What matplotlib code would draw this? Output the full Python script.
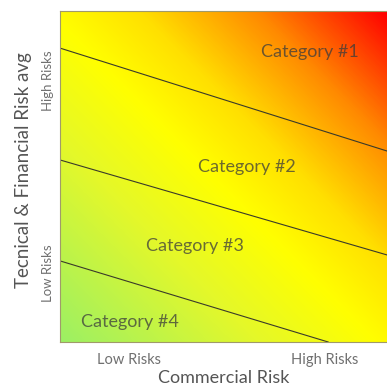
import numpy as np
import matplotlib.pyplot as plt
from matplotlib.colors import LinearSegmentedColormap

plt.rcParams['font.family'] = ['Lato', 'DejaVu Sans']

# category boundaries: (x0, y0) -> (x1, y1) in normalised risk units
boundary_x = [[0.0, 1.0], [0.0, 1.0], [0.0, 0.82]]
boundary_y = [[0.888, 0.577], [0.55, 0.263], [0.245, 0.0]]

categories = ['Category #1', 'Category #2', 'Category #3', 'Category #4']
cat_x = [0.765, 0.572, 0.413, 0.214]
cat_y = [0.876, 0.529, 0.29, 0.06]

x_ticks = [0.21, 0.81]
y_ticks = [0.208, 0.789]
tick_labels = ['Low Risks', 'High Risks']

# green -> yellow -> red along the diagonal
risk_cmap = LinearSegmentedColormap.from_list('risk', [
    (0.0, '#9cf064'),
    (0.3, '#e4f82a'),
    (0.48, '#ffff00'),
    (0.62, '#ffe000'),
    (0.8, '#ff8a00'),
    (1.0, '#ff0000'),
])

u, v = np.meshgrid(np.linspace(0, 1, 300), np.linspace(0, 1, 300))
grad = (u + v) / 2

fig = plt.figure(figsize=(3.87, 3.88), dpi=100)
ax = fig.add_axes([0.155, 0.1186, 0.845, 0.853])
ax.imshow(grad, cmap=risk_cmap, extent=[0, 1, 0, 1], origin='lower',
          aspect='auto', vmin=0, vmax=1)

for xs, ys in zip(boundary_x, boundary_y):
    ax.plot(xs, ys, color='#3a3a2a', lw=0.8)

for name, x, y in zip(categories, cat_x, cat_y):
    ax.text(x, y, name, ha='center', va='center', fontsize=13,
            color='#3c3c3c', alpha=0.75)

ax.set_xlim(0, 1)
ax.set_ylim(0, 1)
ax.set_xticks(x_ticks)
ax.set_xticklabels(tick_labels, fontsize=10.5, color='#707070')
ax.set_yticks(y_ticks)
ax.set_yticklabels(tick_labels, fontsize=9.5, color='#707070', rotation=90,
                   va='center')
ax.tick_params(axis='x', length=0, pad=8)
ax.tick_params(axis='y', length=0, pad=4)

ax.set_xlabel('Commercial Risk', fontsize=13, color='#555555', labelpad=2)
ax.set_ylabel('Tecnical & Financial Risk avg', fontsize=13.5, color='#555555')
ax.yaxis.set_label_coords(-0.085, 0.52)

for side in ['left', 'bottom', 'top']:
    ax.spines[side].set_color('#a09a6a')
    ax.spines[side].set_linewidth(0.8)
ax.spines['right'].set_visible(False)

fig.savefig('out.png', dpi=100)
